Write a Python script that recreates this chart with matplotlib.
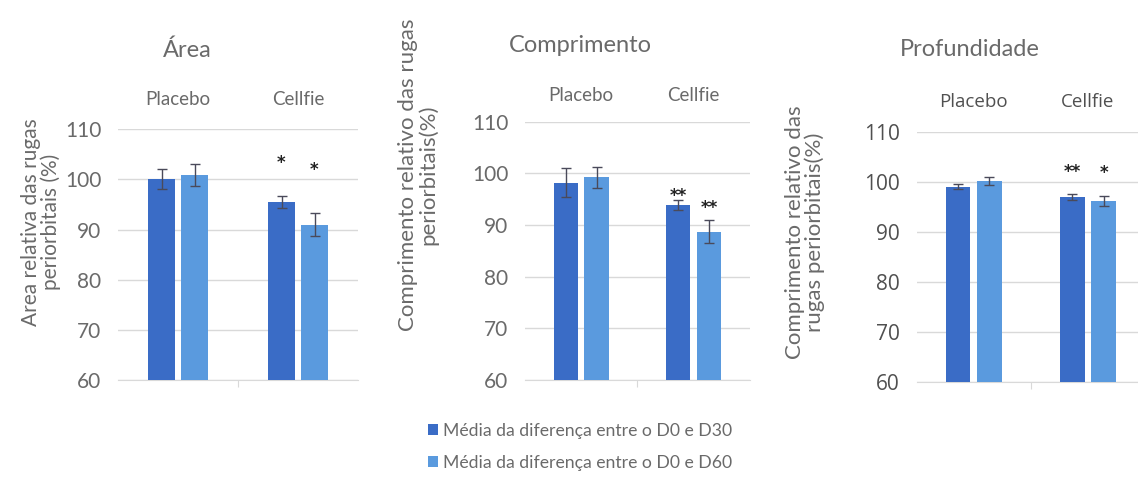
import matplotlib.pyplot as plt
import numpy as np

# dados
grupos = ['Placebo', 'Cellfie']
serie_nomes = ['Média da diferença entre o D0 e D30', 'Média da diferença entre o D0 e D60']

area_d30 = [100.0, 95.5]
area_d60 = [100.8, 91.0]
area_err30 = [2.0, 1.2]
area_err60 = [2.2, 2.3]
area_sig30 = ['', '*']
area_sig60 = ['', '*']

comp_d30 = [98.2, 93.9]
comp_d60 = [99.2, 88.7]
comp_err30 = [2.8, 1.0]
comp_err60 = [2.1, 2.2]
comp_sig30 = ['', '**']
comp_sig60 = ['', '**']

prof_d30 = [99.0, 96.9]
prof_d60 = [100.2, 96.1]
prof_err30 = [0.5, 0.6]
prof_err60 = [0.8, 1.0]
prof_sig30 = ['', '**']
prof_sig60 = ['', '*']

yticks = [60, 70, 80, 90, 100, 110]

cor30 = '#3a6cc6'
cor60 = '#5a9ade'
cinza = '#6a6a6a'
grade = '#d9d9d9'

plt.rcParams['font.family'] = ['Lato', 'DejaVu Sans']

fig = plt.figure(figsize=(11.38, 4.79), dpi=100)


def painel(pos, d30, d60, e30, e60, s30, s60, sig_y30, sig_y60, lab_y,
           fonte_ticks='Lato', cor_txt=cinza):
    ax = fig.add_axes(pos)
    x = np.arange(len(grupos))
    off = 0.1375
    w = 0.217
    ax.bar(x - off, d30, w, color=cor30, zorder=3, label=serie_nomes[0])
    ax.bar(x + off, d60, w, color=cor60, zorder=3, label=serie_nomes[1])
    ax.errorbar(x - off, d30, yerr=e30, fmt='none', ecolor='#4a4a5a',
                elinewidth=1, capsize=3.5, capthick=1, zorder=4)
    ax.errorbar(x + off, d60, yerr=e60, fmt='none', ecolor='#4a4a5a',
                elinewidth=1, capsize=3.5, capthick=1, zorder=4)
    for i in range(len(grupos)):
        if s30[i]:
            ax.text(x[i] - off, sig_y30[i], s30[i], ha='center', va='center',
                    fontsize=12, color='#222222', family='DejaVu Sans',
                    weight='bold', zorder=5)
        if s60[i]:
            ax.text(x[i] + off, sig_y60[i], s60[i], ha='center', va='center',
                    fontsize=12, color='#222222', family='DejaVu Sans',
                    weight='bold', zorder=5)
    ax.set_ylim(60, 110)
    ax.set_xlim(-0.5, 1.5)
    ax.set_yticks(yticks)
    ax.yaxis.grid(True, color=grade, linewidth=1, zorder=0)
    for s in ['top', 'right', 'left']:
        ax.spines[s].set_visible(False)
    ax.spines['bottom'].set_color(grade)
    ax.set_xticks([0.5])
    ax.set_xticklabels([''])
    ax.tick_params(axis='x', length=5, color=grade)
    ax.tick_params(axis='y', length=0, pad=12, labelsize=15, labelcolor=cor_txt)
    for t in ax.get_yticklabels():
        t.set_family(fonte_ticks)
    for i, g in enumerate(grupos):
        ax.text(x[i], lab_y, g, transform=ax.get_xaxis_transform(),
                ha='center', va='center', fontsize=13.5, color=cor_txt,
                family=fonte_ticks)
    return ax


ax1 = painel([0.1037, 0.2067, 0.2109, 0.5234], area_d30, area_d60,
             area_err30, area_err60, area_sig30, area_sig60,
             [0, 103.3], [0, 101.8], 1.117)
ax2 = painel([0.4613, 0.2067, 0.1977, 0.5393], comp_d30, comp_d60,
             comp_err30, comp_err60, comp_sig30, comp_sig60,
             [0, 95.6], [0, 93.3], 1.103)
ax3 = painel([0.8055, 0.2031, 0.2006, 0.5219], prof_d30, prof_d60,
             prof_err30, prof_err60, prof_sig30, prof_sig60,
             [0, 102.0], [0, 101.8], 1.12,
             fonte_ticks='Open Sans', cor_txt='#505050')

# títulos
fig.text(187 / 1138, 1 - 50 / 479, 'Área', ha='center', va='center',
         fontsize=17, color=cinza)
fig.text(580 / 1138, 1 - 45 / 479, 'Comprimento', ha='center', va='center',
         fontsize=17, color=cinza)
fig.text(970 / 1138, 1 - 50 / 479, 'Profundidade', ha='center', va='center',
         fontsize=17, color=cinza)

# rótulos do eixo y
fig.text(41 / 1138, 1 - 222 / 479, 'Area relativa das rugas\nperiorbitais (%)',
         rotation=90, ha='center', va='center', fontsize=15, color=cinza,
         linespacing=1.0)
fig.text(418 / 1138, 1 - 175 / 479, 'Comprimento relativo das rugas\nperiorbitais(%)',
         rotation=90, ha='center', va='center', fontsize=16, color=cinza,
         linespacing=1.0)
fig.text(805 / 1138, 1 - 232 / 479, 'Comprimento relativo das\nrugas periorbitais(%)',
         rotation=90, ha='center', va='center', fontsize=16, color=cinza,
         linespacing=1.0)

# legenda
h, l = ax1.get_legend_handles_labels()
fig.legend(h, l, loc='center left', bbox_to_anchor=(412 / 1138, 1 - 447 / 479),
           frameon=False, handlelength=0.6,
           handleheight=0.6, handletextpad=0.25, labelspacing=0.9,
           prop={'family': 'Lato', 'size': 12.7})
for t in fig.legends[0].get_texts():
    t.set_color(cinza)

fig.savefig('out.png', dpi=100)
